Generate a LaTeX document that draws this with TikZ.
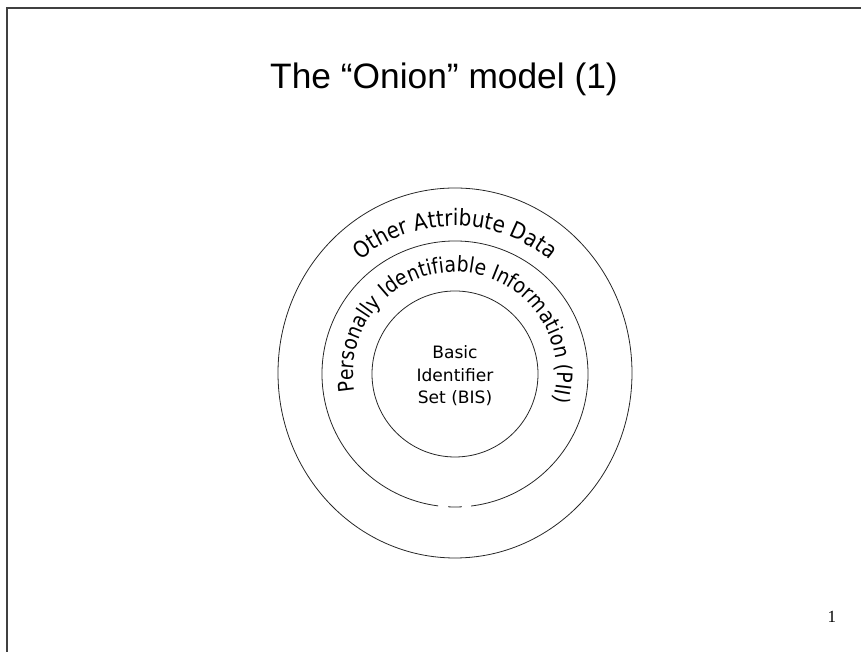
\documentclass[tikz,border=0pt]{standalone}
\usepackage{fontspec}
\setmainfont{DejaVu Sans}
\newfontfamily\titlefont{Liberation Sans}
\newfontfamily\pagefont{Liberation Serif}
\newfontfamily\ringface{DejaVu Sans}[FakeStretch=0.88]
\usetikzlibrary{decorations.text}

\newcommand\ringfont{\ringface\fontsize{17}{20}\selectfont}
\newcommand\piifont{\ringface\fontsize{16}{19}\selectfont}

\begin{document}
\begin{tikzpicture}[
		x=0.75pt, y=0.75pt,
		ring/.style={draw=black!85, line width=0.6pt},
		frameline/.style={draw=black!75, line width=1.1pt},
		ringtext/.style={decorate, decoration={text along path, text align=center, text={#1}}}
	]
	\useasboundingbox (0,0) rectangle (861,652);
	\draw[frameline] (7,0) -- (7,644) -- (861,644);

	\node[anchor=base, font=\titlefont\fontsize{26.5}{30}\selectfont] (title) at (444,563) {The “Onion” model (1)};

	\coordinate (c) at (455,278);
	% the three rings
	\draw[ring] (455,279) ellipse [x radius=177, y radius=185];
	\draw[ring] (c) ++(277:133) arc [start angle=277, end angle=622.7, radius=133];
	\draw[ring] (c) ++(267:133) arc [start angle=267, end angle=273, radius=133];
	\draw[ring] (c) circle [radius=83];

	% ring labels
	\path[ringtext={|\ringfont|Other Attribute Data}] (c) ++(170:148) arc [start angle=170, end angle=10, radius=148];
	\path[ringtext={|\piifont|Personally Identifiable Information (PII)}] (c) ++(200:102) arc [start angle=200, end angle=-25.4, radius=102];

	\node[align=center, font=\fontsize{12.8}{16.9}\selectfont] (bis) at (455,276) {Basic\\Identifier\\Set (BIS)};
	\node[anchor=base, font=\pagefont\fontsize{12.8}{15}\selectfont] (pagenum) at (832,29) {1};
\end{tikzpicture}
\end{document}
